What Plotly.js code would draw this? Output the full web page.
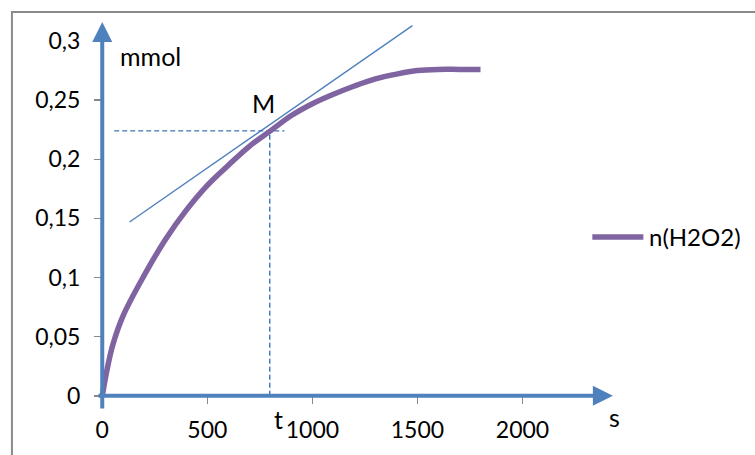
<!DOCTYPE html>
<html>
<head>
<meta charset="utf-8">
<script src="https://cdn.plot.ly/plotly-3.0.1.min.js"></script>
<style>html,body{margin:0;padding:0;background:#fff;}#chart{width:755px;height:455px;}</style>
</head>
<body>
<div id="chart"></div>
<script>
// Data
const time_s = [0, 25, 50, 100, 200, 300, 400, 500, 600, 700, 800, 900, 1000, 1100, 1200, 1300, 1400, 1500, 1600, 1700, 1800];
const n_H2O2 = [0, 0.024, 0.043, 0.068, 0.102, 0.132, 0.157, 0.178, 0.195, 0.211, 0.224, 0.237, 0.247, 0.255, 0.262, 0.268, 0.272, 0.275, 0.276, 0.276, 0.276];
const tangent_x = [130, 1476];
const tangent_y = [0.147, 0.313];
const M_t = 797;
const M_n = 0.224;
const guideH_x = [57, 867];
const xTicks = [0, 500, 1000, 1500, 2000];
const xTickText = ['0', '500', '1000', '1500', '2000'];
const yTicks = [0, 0.05, 0.1, 0.15, 0.2, 0.25, 0.3];
const yTickText = ['0', '0,05', '0,1', '0,15', '0,2', '0,25', '0,3'];
const seriesName = 'n(H2O2)';

const FONT = 'Lato, "Open Sans", sans-serif';
const BLUE = '#4F81BD';
const DBLUE = '#3F74B8';
const PURPLE = '#8064A2';

// geometry (pixels)
const L = 97, W = 517.65, T = 15, H = 395.2;
const xr = [-25, 2440], yr = [-0.012, 0.322];
const px = p => (p - L) / W;
const py = p => (T + H - p) / H;

const traces = [
  {x: tangent_x, y: tangent_y, mode: 'lines', line: {color: BLUE, width: 1.4}, showlegend: false, hoverinfo: 'skip'},
  {x: guideH_x, y: [M_n, M_n], mode: 'lines', line: {color: DBLUE, width: 1.4, dash: '5px,3px'}, showlegend: false, hoverinfo: 'skip'},
  {x: [M_t, M_t], y: [0, M_n], mode: 'lines', line: {color: DBLUE, width: 1.4, dash: '5px,3px'}, showlegend: false, hoverinfo: 'skip'},
  {x: time_s, y: n_H2O2, mode: 'lines', name: seriesName, line: {color: PURPLE, width: 5.5, shape: 'spline', smoothing: 1}, showlegend: false}
];

const txt = (x, y, text, size, xanchor) => ({xref: 'paper', yref: 'paper', x: px(x), y: py(y), text: text,
  showarrow: false, xanchor: xanchor || 'center', yanchor: 'middle', font: {family: FONT, size: size, color: '#000'}});

const layout = {
  width: 755, height: 455,
  margin: {l: L, r: 755 - L - W, t: T, b: 455 - T - H, pad: 0},
  paper_bgcolor: '#fff', plot_bgcolor: 'rgba(0,0,0,0)',
  font: {family: FONT, size: 23, color: '#000'},
  xaxis: {
    range: xr, showgrid: false, zeroline: false, showline: false,
    tickmode: 'array', tickvals: xTicks, ticktext: xTickText,
    ticks: 'outside', ticklen: 7, tickwidth: 1.5, tickcolor: '#888',
    anchor: 'free', position: py(396), ticklabelstandoff: 7,
    tickfont: {family: FONT, size: 23, color: '#000'}
  },
  yaxis: {
    range: yr, showgrid: false, zeroline: false, showline: false,
    tickmode: 'array', tickvals: yTicks, ticktext: yTickText,
    ticks: 'outside', ticklen: 8, tickwidth: 1.5, tickcolor: '#888',
    anchor: 'free', position: px(102), ticklabelstandoff: 9,
    tickfont: {family: FONT, size: 23, color: '#000'}
  },
  showlegend: false,
  shapes: [
    {type: 'rect', xref: 'paper', yref: 'paper', x0: px(12), x1: px(770), y0: py(470), y1: py(12),
     line: {color: '#8a8a8a', width: 2}, fillcolor: 'rgba(0,0,0,0)', layer: 'below'},
    // legend key
    {type: 'line', xref: 'paper', yref: 'paper', x0: px(592), x1: px(643), y0: py(237), y1: py(237),
     line: {color: PURPLE, width: 5.5}}
  ],
  annotations: [
    {x: 2430, y: 0, ax: -25, ay: 0, xref: 'x', yref: 'y', axref: 'x', ayref: 'y', text: '', showarrow: true,
     arrowhead: 2, arrowsize: 1, arrowwidth: 4, arrowcolor: BLUE},
    {x: 0, y: 0.316, ax: 0, ay: -0.012, xref: 'x', yref: 'y', axref: 'x', ayref: 'y', text: '', showarrow: true,
     arrowhead: 2, arrowsize: 1, arrowwidth: 4, arrowcolor: BLUE},
    txt(150, 56, 'mmol', 25),
    txt(263, 103, 'M', 25),
    txt(278, 419, 't', 25),
    txt(614, 417, 's', 25),
    txt(647, 237, seriesName, 24, 'left')
  ]
};

Plotly.newPlot('chart', traces, layout, {displayModeBar: false, staticPlot: true});
</script>
</body>
</html>
